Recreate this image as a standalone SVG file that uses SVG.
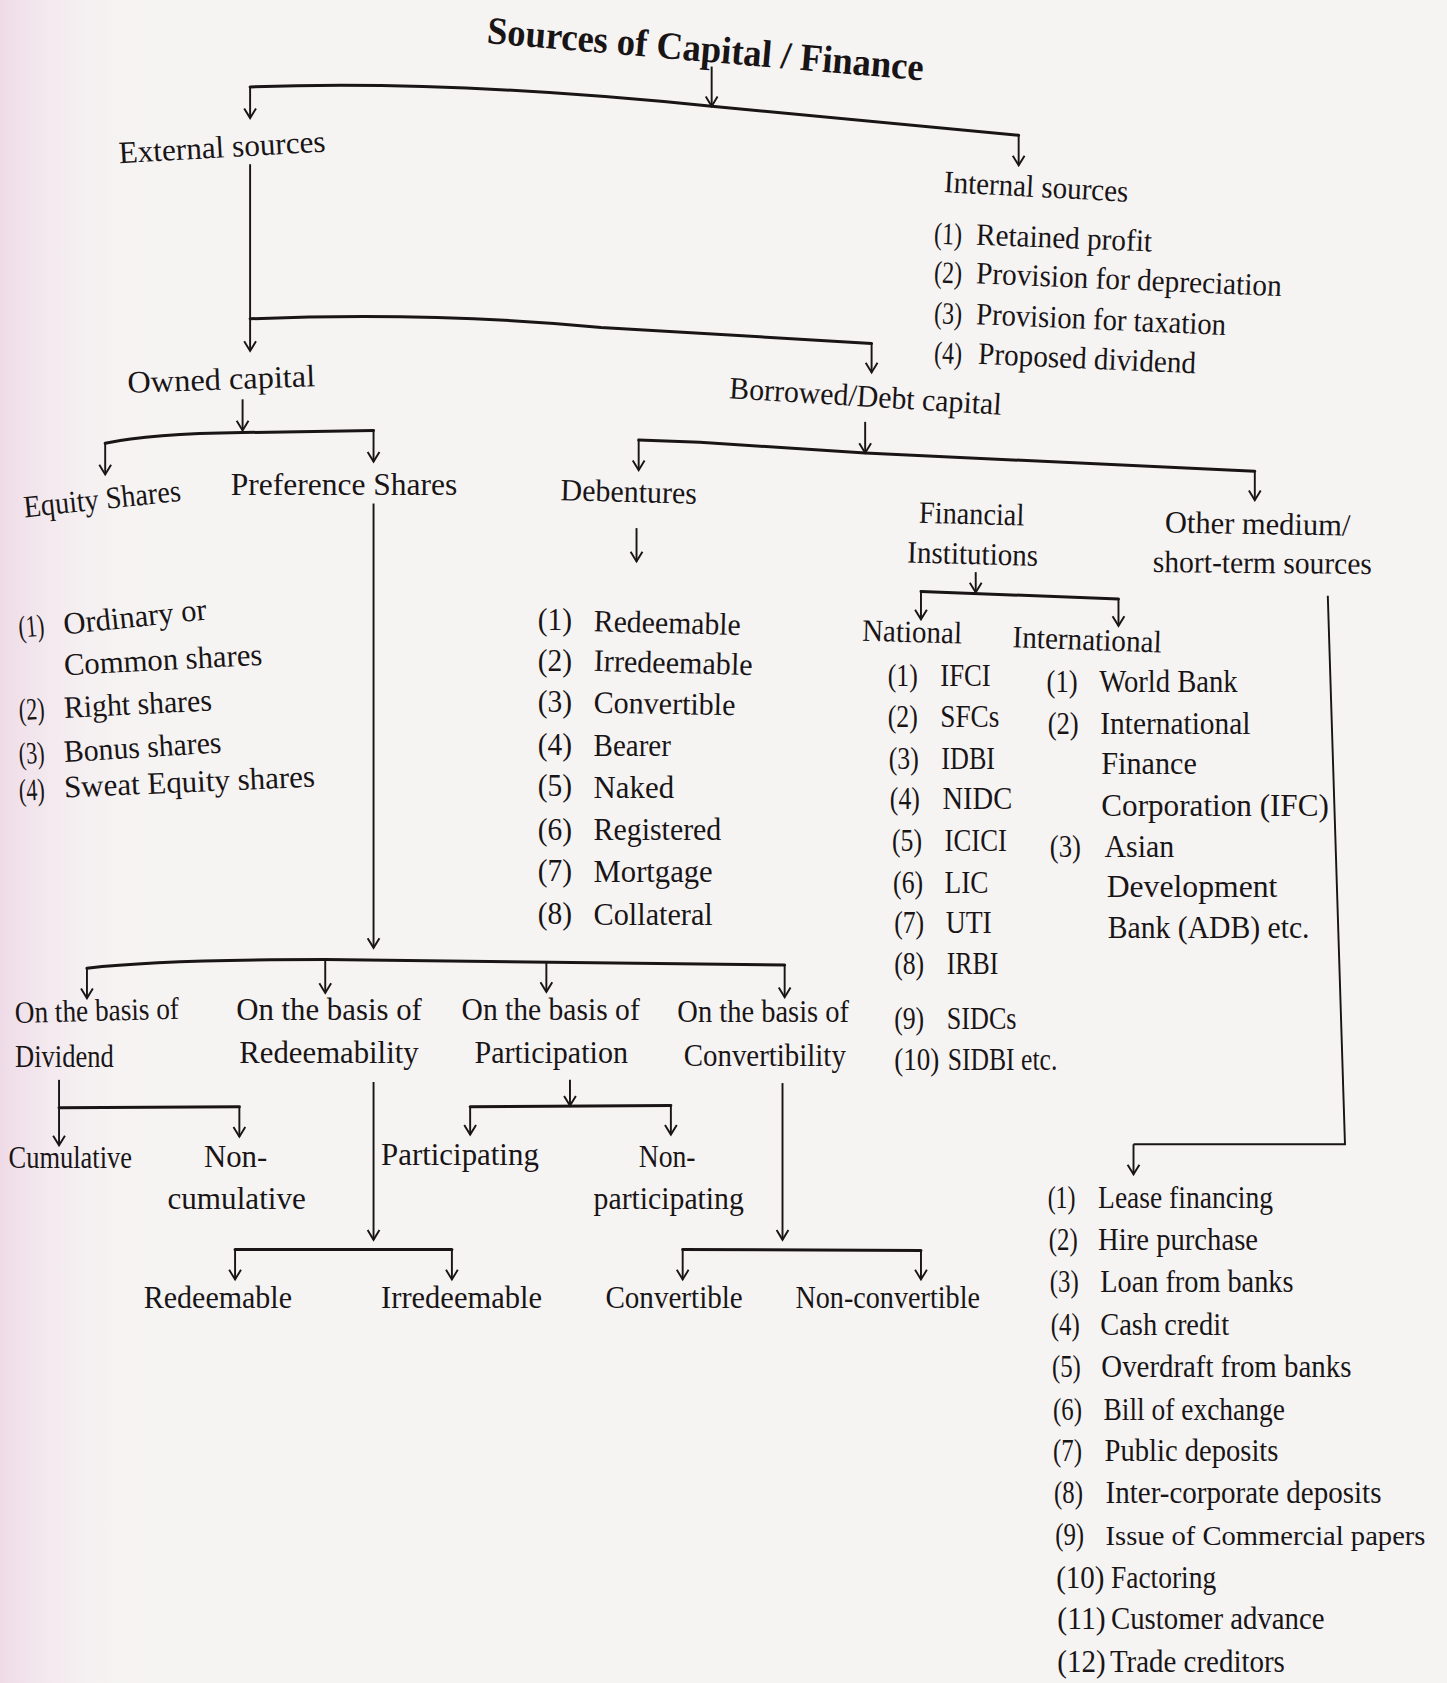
<svg xmlns="http://www.w3.org/2000/svg" width="1447" height="1683" viewBox="0 0 1447 1683">
<defs>
<style>
.t{font-family:"Liberation Serif","DejaVu Serif",serif;font-size:29px;fill:#191517}
.s{font-size:26px}
.h{font-family:"Liberation Serif","DejaVu Serif",serif;font-size:36px;font-weight:bold;fill:#191517}
.bar{fill:none;stroke:#191517;stroke-width:2.8;stroke-linecap:round}
.ln{fill:none;stroke:#191517;stroke-width:1.8}
.ar{fill:none;stroke:#191517;stroke-width:1.8;marker-end:url(#ah)}
</style>
<marker id="ah" viewBox="-11 -7 13 14" refX="0" refY="0" markerWidth="13" markerHeight="14" markerUnits="userSpaceOnUse" orient="auto">
<path d="M-9,-5.5 L0,0 L-9,5.5" fill="none" stroke="#191517" stroke-width="1.8"/>
</marker>
<linearGradient id="bgl" x1="0" y1="0" x2="1" y2="0">
<stop offset="0" stop-color="#ecd0e2" stop-opacity="0.7"/>
<stop offset="0.05" stop-color="#f1e2ec" stop-opacity="0.35"/>
<stop offset="0.11" stop-color="#f6f3f2" stop-opacity="0"/>
</linearGradient>
</defs>
<rect x="0" y="0" width="1447" height="1683" fill="#f6f4f3"/>
<rect x="0" y="0" width="1447" height="1683" fill="url(#bgl)"/>
<g transform="scale(1.0734)">
<g id="connectors">
<path class="ar" d="M663,62 L663,99"/>
<path class="bar" d="M233,81 Q420,74 663,99 L949,126"/>
<path class="ar" d="M233,81 L233,110"/>
<path class="ar" d="M949,126 L949,154"/>
<path class="ar" d="M233,153 L233,327"/>
<path class="bar" d="M233,297 Q400,290 560,305 L812,320"/>
<path class="ar" d="M812,320 L812,347"/>
<path class="ar" d="M226,372 L226,401"/>
<path class="bar" d="M98,413 Q140,404 226,403 L348,401"/>
<path class="ar" d="M98,413 L98,442"/>
<path class="ar" d="M348,401 L348,430"/>
<path class="ar" d="M348,469 L348,883"/>
<path class="ar" d="M806,393 L806,422"/>
<path class="bar" d="M595,410 L652,412 L806,422 L1169,439"/>
<path class="ar" d="M595,410 L595,438"/>
<path class="ar" d="M1169,439 L1169,466"/>
<path class="ar" d="M593,492 L593,523"/>
<path class="ar" d="M909,533 L909,552"/>
<path class="bar" d="M858,551 L1042,558"/>
<path class="ar" d="M858,551 L858,577"/>
<path class="ar" d="M1042,558 L1042,583"/>
<path class="ln" d="M1237,555 L1253,1066 L1056,1066"/>
<path class="ar" d="M1056,1066 L1056,1094"/>
<path class="bar" d="M81,902 Q150,894 303,894 L731,899"/>
<path class="ar" d="M81,902 L81,930"/>
<path class="ar" d="M303,894 L303,925"/>
<path class="ar" d="M509,896 L509,924"/>
<path class="ar" d="M731,899 L731,929"/>
<path class="ar" d="M55,1006 L55,1067"/>
<path class="bar" d="M55,1032 L223,1031"/>
<path class="ar" d="M223,1031 L223,1059"/>
<path class="ar" d="M531,1006 L531,1030"/>
<path class="bar" d="M438,1031 L625,1030"/>
<path class="ar" d="M438,1031 L438,1057"/>
<path class="ar" d="M625,1030 L625,1057"/>
<path class="ar" d="M348,1008 L348,1155"/>
<path class="bar" d="M219,1164 L421,1164"/>
<path class="ar" d="M219,1164 L219,1192"/>
<path class="ar" d="M421,1164 L421,1192"/>
<path class="ar" d="M729,1009 L729,1155"/>
<path class="bar" d="M636,1164 L858,1165"/>
<path class="ar" d="M636,1164 L636,1192"/>
<path class="ar" d="M858,1165 L858,1192"/>
</g>
<g id="n-title"><text class="h" x="453" y="40" textLength="408" lengthAdjust="spacingAndGlyphs" transform="rotate(4.9 453 40)">Sources of Capital / Finance</text></g>
<g id="n-external"><text class="t" x="111" y="152" textLength="193" lengthAdjust="spacingAndGlyphs" transform="rotate(-3.2 111 152)">External sources</text></g>
<g id="n-internal">
<text class="t" x="879" y="179" textLength="172" lengthAdjust="spacingAndGlyphs" transform="rotate(3 879 179)">Internal sources</text>
<text class="t" x="870" y="227" textLength="26" lengthAdjust="spacingAndGlyphs" transform="rotate(2.2 870 227)">(1)</text>
<text class="t" x="909" y="228" textLength="164" lengthAdjust="spacingAndGlyphs" transform="rotate(2.2 909 228)">Retained profit</text>
<text class="t" x="870" y="263" textLength="26" lengthAdjust="spacingAndGlyphs" transform="rotate(2.4 870 263)">(2)</text>
<text class="t" x="909" y="264" textLength="285" lengthAdjust="spacingAndGlyphs" transform="rotate(2.4 909 264)">Provision for depreciation</text>
<text class="t" x="870" y="301" textLength="26" lengthAdjust="spacingAndGlyphs" transform="rotate(2.5 870 301)">(3)</text>
<text class="t" x="909" y="302" textLength="233" lengthAdjust="spacingAndGlyphs" transform="rotate(2.5 909 302)">Provision for taxation</text>
<text class="t" x="870" y="338" textLength="26" lengthAdjust="spacingAndGlyphs" transform="rotate(2.5 870 338)">(4)</text>
<text class="t" x="911" y="339" textLength="203" lengthAdjust="spacingAndGlyphs" transform="rotate(2.5 911 339)">Proposed dividend</text>
</g>
<g id="n-owned"><text class="t" x="119" y="366" textLength="175" lengthAdjust="spacingAndGlyphs" transform="rotate(-2 119 366)">Owned capital</text></g>
<g id="n-borrowed"><text class="t" x="679" y="371" textLength="254" lengthAdjust="spacingAndGlyphs" transform="rotate(3.5 679 371)">Borrowed/Debt capital</text></g>
<g id="n-equity">
<text class="t" x="23" y="482" textLength="147" lengthAdjust="spacingAndGlyphs" transform="rotate(-6 23 482)">Equity Shares</text>
<text class="t" x="18" y="594" textLength="24" lengthAdjust="spacingAndGlyphs" transform="rotate(-5 18 594)">(1)</text>
<text class="t" x="60" y="591" textLength="134" lengthAdjust="spacingAndGlyphs" transform="rotate(-6 60 591)">Ordinary or</text>
<text class="t" x="60" y="629" textLength="185" lengthAdjust="spacingAndGlyphs" transform="rotate(-3 60 629)">Common shares</text>
<text class="t" x="18" y="671" textLength="24" lengthAdjust="spacingAndGlyphs" transform="rotate(-3 18 671)">(2)</text>
<text class="t" x="60" y="669" textLength="138" lengthAdjust="spacingAndGlyphs" transform="rotate(-3 60 669)">Right shares</text>
<text class="t" x="18" y="712" textLength="24" lengthAdjust="spacingAndGlyphs" transform="rotate(-3.5 18 712)">(3)</text>
<text class="t" x="60" y="710" textLength="147" lengthAdjust="spacingAndGlyphs" transform="rotate(-3.5 60 710)">Bonus shares</text>
<text class="t" x="18" y="746" textLength="24" lengthAdjust="spacingAndGlyphs" transform="rotate(-2.5 18 746)">(4)</text>
<text class="t" x="60" y="743" textLength="234" lengthAdjust="spacingAndGlyphs" transform="rotate(-2.5 60 743)">Sweat Equity shares</text>
</g>
<g id="n-preference"><text class="t" x="215" y="461" textLength="211" lengthAdjust="spacingAndGlyphs">Preference Shares</text></g>
<g id="n-debentures">
<text class="t" x="522" y="466" textLength="127" lengthAdjust="spacingAndGlyphs" transform="rotate(1.5 522 466)">Debentures</text>
<text class="t" x="501" y="587" textLength="32" lengthAdjust="spacingAndGlyphs">(1)</text>
<text class="t" x="553" y="588" textLength="137" lengthAdjust="spacingAndGlyphs" transform="rotate(1.5 553 588)">Redeemable</text>
<text class="t" x="501" y="625" textLength="32" lengthAdjust="spacingAndGlyphs">(2)</text>
<text class="t" x="553" y="625" textLength="148" lengthAdjust="spacingAndGlyphs" transform="rotate(1.5 553 625)">Irredeemable</text>
<text class="t" x="501" y="663" textLength="32" lengthAdjust="spacingAndGlyphs">(3)</text>
<text class="t" x="553" y="664" textLength="132" lengthAdjust="spacingAndGlyphs" transform="rotate(1 553 664)">Convertible</text>
<text class="t" x="501" y="703" textLength="32" lengthAdjust="spacingAndGlyphs">(4)</text>
<text class="t" x="553" y="704" textLength="72" lengthAdjust="spacingAndGlyphs">Bearer</text>
<text class="t" x="501" y="742" textLength="32" lengthAdjust="spacingAndGlyphs">(5)</text>
<text class="t" x="553" y="743" textLength="75" lengthAdjust="spacingAndGlyphs">Naked</text>
<text class="t" x="501" y="783" textLength="32" lengthAdjust="spacingAndGlyphs">(6)</text>
<text class="t" x="553" y="783" textLength="119" lengthAdjust="spacingAndGlyphs">Registered</text>
<text class="t" x="501" y="821" textLength="32" lengthAdjust="spacingAndGlyphs">(7)</text>
<text class="t" x="553" y="822" textLength="111" lengthAdjust="spacingAndGlyphs">Mortgage</text>
<text class="t" x="501" y="861" textLength="32" lengthAdjust="spacingAndGlyphs">(8)</text>
<text class="t" x="553" y="862" textLength="111" lengthAdjust="spacingAndGlyphs">Collateral</text>
</g>
<g id="n-fin-inst">
<text class="t" x="856" y="487" textLength="98" lengthAdjust="spacingAndGlyphs" transform="rotate(1.5 856 487)">Financial</text>
<text class="t" x="845" y="524" textLength="122" lengthAdjust="spacingAndGlyphs" transform="rotate(1.5 845 524)">Institutions</text>
</g>
<g id="n-other">
<text class="t" x="1085" y="496" textLength="173" lengthAdjust="spacingAndGlyphs" transform="rotate(1 1085 496)">Other medium/</text>
<text class="t" x="1074" y="533" textLength="204" lengthAdjust="spacingAndGlyphs" transform="rotate(0.5 1074 533)">short-term sources</text>
</g>
<g id="n-national">
<text class="t" x="803" y="597" textLength="93" lengthAdjust="spacingAndGlyphs" transform="rotate(1.5 803 597)">National</text>
<text class="t" x="827" y="639" textLength="28" lengthAdjust="spacingAndGlyphs">(1)</text><text class="t" x="876" y="639" textLength="47" lengthAdjust="spacingAndGlyphs">IFCI</text>
<text class="t" x="827" y="677" textLength="28" lengthAdjust="spacingAndGlyphs">(2)</text><text class="t" x="876" y="677" textLength="55" lengthAdjust="spacingAndGlyphs">SFCs</text>
<text class="t" x="828" y="716" textLength="28" lengthAdjust="spacingAndGlyphs">(3)</text><text class="t" x="877" y="716" textLength="50" lengthAdjust="spacingAndGlyphs">IDBI</text>
<text class="t" x="829" y="754" textLength="28" lengthAdjust="spacingAndGlyphs">(4)</text><text class="t" x="878" y="754" textLength="65" lengthAdjust="spacingAndGlyphs">NIDC</text>
<text class="t" x="831" y="793" textLength="28" lengthAdjust="spacingAndGlyphs">(5)</text><text class="t" x="880" y="793" textLength="58" lengthAdjust="spacingAndGlyphs">ICICI</text>
<text class="t" x="832" y="832" textLength="28" lengthAdjust="spacingAndGlyphs">(6)</text><text class="t" x="880" y="832" textLength="41" lengthAdjust="spacingAndGlyphs">LIC</text>
<text class="t" x="833" y="869" textLength="28" lengthAdjust="spacingAndGlyphs">(7)</text><text class="t" x="881" y="869" textLength="43" lengthAdjust="spacingAndGlyphs">UTI</text>
<text class="t" x="833" y="907" textLength="28" lengthAdjust="spacingAndGlyphs">(8)</text><text class="t" x="882" y="907" textLength="48" lengthAdjust="spacingAndGlyphs">IRBI</text>
<text class="t" x="833" y="959" textLength="28" lengthAdjust="spacingAndGlyphs">(9)</text><text class="t" x="882" y="959" textLength="65" lengthAdjust="spacingAndGlyphs">SIDCs</text>
<text class="t" x="833" y="997" textLength="42" lengthAdjust="spacingAndGlyphs">(10)</text><text class="t" x="883" y="997" textLength="102" lengthAdjust="spacingAndGlyphs">SIDBI etc.</text>
</g>
<g id="n-international">
<text class="t" x="943" y="603" textLength="139" lengthAdjust="spacingAndGlyphs" transform="rotate(2 943 603)">International</text>
<text class="t" x="975" y="645" textLength="29" lengthAdjust="spacingAndGlyphs">(1)</text><text class="t" x="1024" y="645" textLength="129" lengthAdjust="spacingAndGlyphs">World Bank</text>
<text class="t" x="976" y="684" textLength="29" lengthAdjust="spacingAndGlyphs">(2)</text><text class="t" x="1025" y="684" textLength="140" lengthAdjust="spacingAndGlyphs">International</text>
<text class="t" x="1026" y="721" textLength="89" lengthAdjust="spacingAndGlyphs">Finance</text>
<text class="t" x="1026" y="760" textLength="212" lengthAdjust="spacingAndGlyphs">Corporation (IFC)</text>
<text class="t" x="978" y="798" textLength="29" lengthAdjust="spacingAndGlyphs">(3)</text><text class="t" x="1029" y="798" textLength="65" lengthAdjust="spacingAndGlyphs">Asian</text>
<text class="t" x="1031" y="836" textLength="159" lengthAdjust="spacingAndGlyphs">Development</text>
<text class="t" x="1032" y="874" textLength="188" lengthAdjust="spacingAndGlyphs">Bank (ADB) etc.</text>
</g>
<g id="n-other-list">
<text class="t" x="976" y="1125" textLength="26" lengthAdjust="spacingAndGlyphs">(1)</text><text class="t" x="1023" y="1125" textLength="163" lengthAdjust="spacingAndGlyphs">Lease financing</text>
<text class="t" x="977" y="1165" textLength="27" lengthAdjust="spacingAndGlyphs">(2)</text><text class="t" x="1023" y="1165" textLength="149" lengthAdjust="spacingAndGlyphs">Hire purchase</text>
<text class="t" x="978" y="1204" textLength="27" lengthAdjust="spacingAndGlyphs">(3)</text><text class="t" x="1025" y="1204" textLength="180" lengthAdjust="spacingAndGlyphs">Loan from banks</text>
<text class="t" x="979" y="1244" textLength="27" lengthAdjust="spacingAndGlyphs">(4)</text><text class="t" x="1025" y="1244" textLength="120" lengthAdjust="spacingAndGlyphs">Cash credit</text>
<text class="t" x="980" y="1283" textLength="27" lengthAdjust="spacingAndGlyphs">(5)</text><text class="t" x="1026" y="1283" textLength="233" lengthAdjust="spacingAndGlyphs">Overdraft from banks</text>
<text class="t" x="981" y="1323" textLength="27" lengthAdjust="spacingAndGlyphs">(6)</text><text class="t" x="1028" y="1323" textLength="169" lengthAdjust="spacingAndGlyphs">Bill of exchange</text>
<text class="t" x="981" y="1361" textLength="27" lengthAdjust="spacingAndGlyphs">(7)</text><text class="t" x="1029" y="1361" textLength="162" lengthAdjust="spacingAndGlyphs">Public deposits</text>
<text class="t" x="982" y="1400" textLength="27" lengthAdjust="spacingAndGlyphs">(8)</text><text class="t" x="1030" y="1400" textLength="257" lengthAdjust="spacingAndGlyphs">Inter-corporate deposits</text>
<text class="t" x="983" y="1439" textLength="27" lengthAdjust="spacingAndGlyphs">(9)</text><text class="t s" x="1030" y="1439" textLength="298" lengthAdjust="spacingAndGlyphs">Issue of Commercial papers</text>
<text class="t" x="984" y="1479" textLength="45" lengthAdjust="spacingAndGlyphs">(10)</text><text class="t" x="1035" y="1479" textLength="98" lengthAdjust="spacingAndGlyphs">Factoring</text>
<text class="t" x="985" y="1518" textLength="45" lengthAdjust="spacingAndGlyphs">(11)</text><text class="t" x="1035" y="1518" textLength="199" lengthAdjust="spacingAndGlyphs">Customer advance</text>
<text class="t" x="985" y="1558" textLength="45" lengthAdjust="spacingAndGlyphs">(12)</text><text class="t" x="1034" y="1558" textLength="163" lengthAdjust="spacingAndGlyphs">Trade creditors</text>
</g>
<g id="n-dividend">
<text class="t" x="14" y="953" textLength="153" lengthAdjust="spacingAndGlyphs" transform="rotate(-1.5 14 953)">On the basis of</text>
<text class="t" x="14" y="994" textLength="92" lengthAdjust="spacingAndGlyphs">Dividend</text>
</g>
<g id="n-redeemability">
<text class="t" x="220" y="950" textLength="173" lengthAdjust="spacingAndGlyphs">On the basis of</text>
<text class="t" x="223" y="990" textLength="167" lengthAdjust="spacingAndGlyphs">Redeemability</text>
</g>
<g id="n-participation">
<text class="t" x="430" y="950" textLength="166" lengthAdjust="spacingAndGlyphs">On the basis of</text>
<text class="t" x="442" y="990" textLength="143" lengthAdjust="spacingAndGlyphs">Participation</text>
</g>
<g id="n-convertibility">
<text class="t" x="631" y="952" textLength="160" lengthAdjust="spacingAndGlyphs">On the basis of</text>
<text class="t" x="637" y="993" textLength="151" lengthAdjust="spacingAndGlyphs">Convertibility</text>
</g>
<g id="n-cumulative"><text class="t" x="8" y="1088" textLength="115" lengthAdjust="spacingAndGlyphs">Cumulative</text></g>
<g id="n-noncumulative">
<text class="t" x="190" y="1087" textLength="59" lengthAdjust="spacingAndGlyphs">Non-</text>
<text class="t" x="156" y="1126" textLength="129" lengthAdjust="spacingAndGlyphs">cumulative</text>
</g>
<g id="n-participating"><text class="t" x="355" y="1085" textLength="147" lengthAdjust="spacingAndGlyphs">Participating</text></g>
<g id="n-nonparticipating">
<text class="t" x="595" y="1087" textLength="53" lengthAdjust="spacingAndGlyphs">Non-</text>
<text class="t" x="553" y="1126" textLength="140" lengthAdjust="spacingAndGlyphs">participating</text>
</g>
<g id="n-redeemable"><text class="t" x="134" y="1219" textLength="138" lengthAdjust="spacingAndGlyphs">Redeemable</text></g>
<g id="n-irredeemable"><text class="t" x="355" y="1219" textLength="150" lengthAdjust="spacingAndGlyphs">Irredeemable</text></g>
<g id="n-convertible"><text class="t" x="564" y="1219" textLength="128" lengthAdjust="spacingAndGlyphs">Convertible</text></g>
<g id="n-nonconvertible"><text class="t" x="741" y="1219" textLength="172" lengthAdjust="spacingAndGlyphs">Non-convertible</text></g>
</g>
</svg>
